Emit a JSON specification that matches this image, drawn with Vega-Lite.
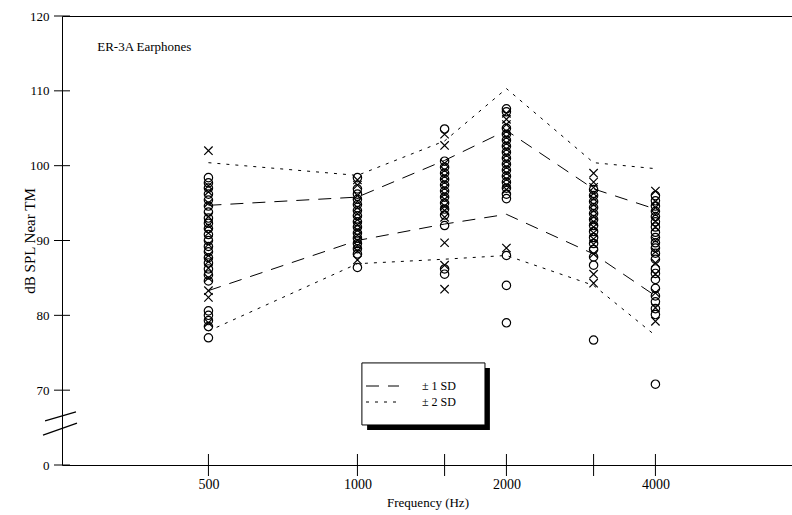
{
  "$schema": "https://vega.github.io/schema/vega-lite/v6.json",
  "width": 731,
  "height": 449,
  "autosize": "none",
  "padding": {"left": 62, "top": 16, "right": 0, "bottom": 50},
  "background": "white",
  "config": {
    "font": "Liberation Serif",
    "view": {"stroke": "black", "strokeWidth": 1},
    "axis": {"grid": false, "domain": false, "ticks": false, "labelColor": "black", "titleColor": "black", "labelFont": "Liberation Serif", "titleFont": "Liberation Serif", "titleFontWeight": "normal"},
    "legend": {"labelFont": "Liberation Serif", "labelColor": "black"}
  },
  "datasets": {
    "pts": [
      {"freq": 500, "type": "X", "db": 102.0}, {"freq": 500, "type": "X", "db": 96.5}, {"freq": 500, "type": "X", "db": 95.0}, {"freq": 500, "type": "X", "db": 93.2}, {"freq": 500, "type": "X", "db": 91.0}, {"freq": 500, "type": "X", "db": 89.5}, {"freq": 500, "type": "X", "db": 88.0}, {"freq": 500, "type": "X", "db": 86.3}, {"freq": 500, "type": "X", "db": 83.3}, {"freq": 500, "type": "X", "db": 82.4}, {"freq": 500, "type": "X", "db": 79.0}, {"freq": 500, "type": "X", "db": 97.3}, {"freq": 500, "type": "X", "db": 92.0}, {"freq": 500, "type": "X", "db": 87.2}, {"freq": 500, "type": "X", "db": 85.0},
      {"freq": 500, "type": "O", "db": 98.4}, {"freq": 500, "type": "O", "db": 97.7}, {"freq": 500, "type": "O", "db": 97.0}, {"freq": 500, "type": "O", "db": 96.2}, {"freq": 500, "type": "O", "db": 95.4}, {"freq": 500, "type": "O", "db": 94.6}, {"freq": 500, "type": "O", "db": 93.8}, {"freq": 500, "type": "O", "db": 93.0}, {"freq": 500, "type": "O", "db": 92.3}, {"freq": 500, "type": "O", "db": 91.6}, {"freq": 500, "type": "O", "db": 90.8}, {"freq": 500, "type": "O", "db": 90.0}, {"freq": 500, "type": "O", "db": 89.2}, {"freq": 500, "type": "O", "db": 88.5}, {"freq": 500, "type": "O", "db": 87.7}, {"freq": 500, "type": "O", "db": 87.0}, {"freq": 500, "type": "O", "db": 86.2}, {"freq": 500, "type": "O", "db": 85.4}, {"freq": 500, "type": "O", "db": 84.6}, {"freq": 500, "type": "O", "db": 80.6}, {"freq": 500, "type": "O", "db": 80.0}, {"freq": 500, "type": "O", "db": 79.3}, {"freq": 500, "type": "O", "db": 78.5}, {"freq": 500, "type": "O", "db": 77.0},
      {"freq": 1000, "type": "O", "db": 98.4}, {"freq": 1000, "type": "O", "db": 96.9}, {"freq": 1000, "type": "O", "db": 96.2}, {"freq": 1000, "type": "O", "db": 95.5}, {"freq": 1000, "type": "O", "db": 94.8}, {"freq": 1000, "type": "O", "db": 94.0}, {"freq": 1000, "type": "O", "db": 93.3}, {"freq": 1000, "type": "O", "db": 92.5}, {"freq": 1000, "type": "O", "db": 91.8}, {"freq": 1000, "type": "O", "db": 91.0}, {"freq": 1000, "type": "O", "db": 90.3}, {"freq": 1000, "type": "O", "db": 89.6}, {"freq": 1000, "type": "O", "db": 88.9}, {"freq": 1000, "type": "O", "db": 88.2}, {"freq": 1000, "type": "O", "db": 86.4},
      {"freq": 1000, "type": "X", "db": 98.1}, {"freq": 1000, "type": "X", "db": 96.0}, {"freq": 1000, "type": "X", "db": 94.4}, {"freq": 1000, "type": "X", "db": 92.8}, {"freq": 1000, "type": "X", "db": 91.4}, {"freq": 1000, "type": "X", "db": 90.0}, {"freq": 1000, "type": "X", "db": 88.6}, {"freq": 1000, "type": "X", "db": 87.4}, {"freq": 1000, "type": "X", "db": 97.4}, {"freq": 1000, "type": "X", "db": 95.2}, {"freq": 1000, "type": "X", "db": 93.6}, {"freq": 1000, "type": "X", "db": 92.1}, {"freq": 1000, "type": "X", "db": 90.7}, {"freq": 1000, "type": "X", "db": 89.3},
      {"freq": 1500, "type": "O", "db": 104.9}, {"freq": 1500, "type": "O", "db": 100.6}, {"freq": 1500, "type": "O", "db": 99.8}, {"freq": 1500, "type": "O", "db": 99.0}, {"freq": 1500, "type": "O", "db": 98.2}, {"freq": 1500, "type": "O", "db": 97.4}, {"freq": 1500, "type": "O", "db": 96.6}, {"freq": 1500, "type": "O", "db": 95.8}, {"freq": 1500, "type": "O", "db": 95.0}, {"freq": 1500, "type": "O", "db": 94.2}, {"freq": 1500, "type": "O", "db": 93.4}, {"freq": 1500, "type": "O", "db": 92.0}, {"freq": 1500, "type": "O", "db": 86.2}, {"freq": 1500, "type": "O", "db": 85.5},
      {"freq": 1500, "type": "X", "db": 104.2}, {"freq": 1500, "type": "X", "db": 102.7}, {"freq": 1500, "type": "X", "db": 100.3}, {"freq": 1500, "type": "X", "db": 98.6}, {"freq": 1500, "type": "X", "db": 97.0}, {"freq": 1500, "type": "X", "db": 95.5}, {"freq": 1500, "type": "X", "db": 94.0}, {"freq": 1500, "type": "X", "db": 93.1}, {"freq": 1500, "type": "X", "db": 89.7}, {"freq": 1500, "type": "X", "db": 86.7}, {"freq": 1500, "type": "X", "db": 83.5}, {"freq": 1500, "type": "X", "db": 99.4}, {"freq": 1500, "type": "X", "db": 97.8}, {"freq": 1500, "type": "X", "db": 96.2}, {"freq": 1500, "type": "X", "db": 94.6},
      {"freq": 2000, "type": "O", "db": 107.6}, {"freq": 2000, "type": "O", "db": 107.2}, {"freq": 2000, "type": "O", "db": 105.0}, {"freq": 2000, "type": "O", "db": 104.2}, {"freq": 2000, "type": "O", "db": 103.4}, {"freq": 2000, "type": "O", "db": 102.6}, {"freq": 2000, "type": "O", "db": 101.8}, {"freq": 2000, "type": "O", "db": 101.0}, {"freq": 2000, "type": "O", "db": 100.2}, {"freq": 2000, "type": "O", "db": 99.4}, {"freq": 2000, "type": "O", "db": 98.6}, {"freq": 2000, "type": "O", "db": 97.8}, {"freq": 2000, "type": "O", "db": 97.0}, {"freq": 2000, "type": "O", "db": 96.2}, {"freq": 2000, "type": "O", "db": 95.6}, {"freq": 2000, "type": "O", "db": 88.0}, {"freq": 2000, "type": "O", "db": 84.0}, {"freq": 2000, "type": "O", "db": 79.0},
      {"freq": 2000, "type": "X", "db": 107.0}, {"freq": 2000, "type": "X", "db": 106.2}, {"freq": 2000, "type": "X", "db": 105.5}, {"freq": 2000, "type": "X", "db": 104.6}, {"freq": 2000, "type": "X", "db": 103.0}, {"freq": 2000, "type": "X", "db": 101.4}, {"freq": 2000, "type": "X", "db": 99.8}, {"freq": 2000, "type": "X", "db": 98.2}, {"freq": 2000, "type": "X", "db": 96.8}, {"freq": 2000, "type": "X", "db": 89.0}, {"freq": 2000, "type": "X", "db": 103.8}, {"freq": 2000, "type": "X", "db": 102.2}, {"freq": 2000, "type": "X", "db": 100.6}, {"freq": 2000, "type": "X", "db": 99.0}, {"freq": 2000, "type": "X", "db": 97.4},
      {"freq": 3000, "type": "X", "db": 99.0}, {"freq": 3000, "type": "X", "db": 97.8}, {"freq": 3000, "type": "X", "db": 97.1}, {"freq": 3000, "type": "X", "db": 95.6}, {"freq": 3000, "type": "X", "db": 94.0}, {"freq": 3000, "type": "X", "db": 92.5}, {"freq": 3000, "type": "X", "db": 91.0}, {"freq": 3000, "type": "X", "db": 89.5}, {"freq": 3000, "type": "X", "db": 88.2}, {"freq": 3000, "type": "X", "db": 85.5}, {"freq": 3000, "type": "X", "db": 84.3}, {"freq": 3000, "type": "X", "db": 96.3}, {"freq": 3000, "type": "X", "db": 94.8}, {"freq": 3000, "type": "X", "db": 93.2}, {"freq": 3000, "type": "X", "db": 91.8}, {"freq": 3000, "type": "X", "db": 90.2},
      {"freq": 3000, "type": "O", "db": 96.8}, {"freq": 3000, "type": "O", "db": 96.0}, {"freq": 3000, "type": "O", "db": 95.2}, {"freq": 3000, "type": "O", "db": 94.4}, {"freq": 3000, "type": "O", "db": 93.6}, {"freq": 3000, "type": "O", "db": 92.8}, {"freq": 3000, "type": "O", "db": 92.0}, {"freq": 3000, "type": "O", "db": 91.2}, {"freq": 3000, "type": "O", "db": 90.4}, {"freq": 3000, "type": "O", "db": 89.6}, {"freq": 3000, "type": "O", "db": 88.8}, {"freq": 3000, "type": "O", "db": 87.8}, {"freq": 3000, "type": "O", "db": 86.7}, {"freq": 3000, "type": "O", "db": 76.7},
      {"freq": 4000, "type": "X", "db": 96.6}, {"freq": 4000, "type": "X", "db": 95.2}, {"freq": 4000, "type": "X", "db": 93.5}, {"freq": 4000, "type": "X", "db": 91.8}, {"freq": 4000, "type": "X", "db": 90.0}, {"freq": 4000, "type": "X", "db": 88.5}, {"freq": 4000, "type": "X", "db": 87.0}, {"freq": 4000, "type": "X", "db": 85.5}, {"freq": 4000, "type": "X", "db": 83.0}, {"freq": 4000, "type": "X", "db": 81.0}, {"freq": 4000, "type": "X", "db": 79.2}, {"freq": 4000, "type": "X", "db": 94.4}, {"freq": 4000, "type": "X", "db": 92.6},
      {"freq": 4000, "type": "O", "db": 96.0}, {"freq": 4000, "type": "O", "db": 95.3}, {"freq": 4000, "type": "O", "db": 94.6}, {"freq": 4000, "type": "O", "db": 93.9}, {"freq": 4000, "type": "O", "db": 93.2}, {"freq": 4000, "type": "O", "db": 92.5}, {"freq": 4000, "type": "O", "db": 91.8}, {"freq": 4000, "type": "O", "db": 91.1}, {"freq": 4000, "type": "O", "db": 90.4}, {"freq": 4000, "type": "O", "db": 89.7}, {"freq": 4000, "type": "O", "db": 89.0}, {"freq": 4000, "type": "O", "db": 88.3}, {"freq": 4000, "type": "O", "db": 87.5}, {"freq": 4000, "type": "O", "db": 86.2}, {"freq": 4000, "type": "O", "db": 85.6}, {"freq": 4000, "type": "O", "db": 84.8}, {"freq": 4000, "type": "O", "db": 83.6}, {"freq": 4000, "type": "O", "db": 82.6}, {"freq": 4000, "type": "O", "db": 81.8}, {"freq": 4000, "type": "O", "db": 80.9}, {"freq": 4000, "type": "O", "db": 80.1}, {"freq": 4000, "type": "O", "db": 70.8}
    ],
    "sd": [
      {"freq": 500, "band": "± 2 SD", "side": "up2", "db": 100.4}, {"freq": 1000, "band": "± 2 SD", "side": "up2", "db": 98.7}, {"freq": 1500, "band": "± 2 SD", "side": "up2", "db": 103.3}, {"freq": 2000, "band": "± 2 SD", "side": "up2", "db": 110.3}, {"freq": 3000, "band": "± 2 SD", "side": "up2", "db": 100.4}, {"freq": 4000, "band": "± 2 SD", "side": "up2", "db": 99.6},
      {"freq": 500, "band": "± 1 SD", "side": "up1", "db": 94.7}, {"freq": 1000, "band": "± 1 SD", "side": "up1", "db": 95.8}, {"freq": 1500, "band": "± 1 SD", "side": "up1", "db": 100.7}, {"freq": 2000, "band": "± 1 SD", "side": "up1", "db": 104.7}, {"freq": 3000, "band": "± 1 SD", "side": "up1", "db": 96.9}, {"freq": 4000, "band": "± 1 SD", "side": "up1", "db": 94.2},
      {"freq": 500, "band": "± 1 SD", "side": "lo1", "db": 83.3}, {"freq": 1000, "band": "± 1 SD", "side": "lo1", "db": 90.0}, {"freq": 1500, "band": "± 1 SD", "side": "lo1", "db": 92.2}, {"freq": 2000, "band": "± 1 SD", "side": "lo1", "db": 93.5}, {"freq": 3000, "band": "± 1 SD", "side": "lo1", "db": 88.2}, {"freq": 4000, "band": "± 1 SD", "side": "lo1", "db": 82.6},
      {"freq": 500, "band": "± 2 SD", "side": "lo2", "db": 77.9}, {"freq": 1000, "band": "± 2 SD", "side": "lo2", "db": 86.9}, {"freq": 1500, "band": "± 2 SD", "side": "lo2", "db": 87.5}, {"freq": 2000, "band": "± 2 SD", "side": "lo2", "db": 88.0}, {"freq": 3000, "band": "± 2 SD", "side": "lo2", "db": 84.0}, {"freq": 4000, "band": "± 2 SD", "side": "lo2", "db": 77.3}
    ],
    "xticks": [{"freq": 500, "db": 60}, {"freq": 1000, "db": 60}, {"freq": 1500, "db": 60}, {"freq": 2000, "db": 60}, {"freq": 3000, "db": 60}, {"freq": 4000, "db": 60}],
    "yticks": [{"freq": 253, "db": 60}, {"freq": 253, "db": 70}, {"freq": 253, "db": 80}, {"freq": 253, "db": 90}, {"freq": 253, "db": 100}, {"freq": 253, "db": 110}, {"freq": 253, "db": 120}],
    "breaks": [{"freq": 233.8, "freq2": 270, "db": 65.9, "db2": 67.1}, {"freq": 231.6, "freq2": 271.3, "db": 64.0, "db2": 65.6}],
    "shadow": [{"freq": 1046, "freq2": 1852, "db": 64.68, "db2": 72.97}],
    "box": [{"freq": 1021, "freq2": 1810, "db": 65.35, "db2": 73.64}],
    "label": [{"freq": 298, "db": 115.9, "text": "ER-3A Earphones"}]
  },
  "encoding": {
    "x": {"field": "freq", "type": "quantitative", "scale": {"type": "log", "domain": [253, 7586], "nice": false},
      "axis": {"title": "Frequency (Hz)", "values": [500, 1000, 2000, 4000], "format": "d", "labelFontSize": 14, "labelPadding": 12, "titleFontSize": 13, "titlePadding": 5}},
    "y": {"field": "db", "type": "quantitative", "scale": {"domain": [60, 120], "nice": false, "zero": false},
      "axis": {"title": "dB SPL Near TM", "values": [60, 70, 80, 90, 100, 110, 120], "labelExpr": "datum.value == 60 ? '0' : datum.label", "labelFontSize": 13, "labelPadding": 13, "titleFontSize": 15, "titlePadding": -8}}
  },
  "layer": [
    {
      "data": {"name": "shadow"},
      "mark": {"type": "rect", "fill": "black"},
      "encoding": {"x2": {"field": "freq2"}, "y2": {"field": "db2"}}
    },
    {
      "data": {"name": "box"},
      "mark": {"type": "rect", "fill": "white", "stroke": "black", "strokeWidth": 1},
      "encoding": {"x2": {"field": "freq2"}, "y2": {"field": "db2"}}
    },
    {
      "data": {"name": "pts"},
      "mark": {"type": "point", "filled": false, "stroke": "black", "strokeWidth": 1.2, "size": 70, "opacity": 1},
      "encoding": {
        "shape": {"field": "type", "type": "nominal", "scale": {"domain": ["O", "X"], "range": ["circle", "M-1,-1L1,1M-1,1L1,-1"]}, "legend": null}
      }
    },
    {
      "data": {"name": "sd"},
      "mark": {"type": "line", "stroke": "black", "strokeWidth": 1},
      "encoding": {
        "detail": {"field": "side"},
        "strokeDash": {"field": "band", "type": "nominal", "scale": {"domain": ["± 1 SD", "± 2 SD"], "range": [[13, 9], [3, 6]]},
          "legend": {"title": null, "orient": "none", "legendX": 314.5, "legendY": 364, "padding": 0, "symbolType": "M-3.3,0H3.3", "symbolSize": 100, "symbolStrokeWidth": 1, "symbolStrokeColor": "black", "labelFontSize": 12, "labelOffset": 33.5, "rowPadding": 4}}
      }
    },
    {
      "data": {"name": "xticks"},
      "mark": {"type": "tick", "orient": "vertical", "size": 22, "thickness": 1, "color": "black", "opacity": 1}
    },
    {
      "data": {"name": "yticks"},
      "mark": {"type": "tick", "orient": "horizontal", "size": 16, "thickness": 1, "color": "black", "opacity": 1}
    },
    {
      "data": {"name": "breaks"},
      "mark": {"type": "rule", "stroke": "black", "strokeWidth": 1.2},
      "encoding": {"x2": {"field": "freq2"}, "y2": {"field": "db2"}}
    },
    {
      "data": {"name": "label"},
      "mark": {"type": "text", "align": "left", "baseline": "middle", "fontSize": 13, "color": "black"},
      "encoding": {"text": {"field": "text"}}
    }
  ]
}
